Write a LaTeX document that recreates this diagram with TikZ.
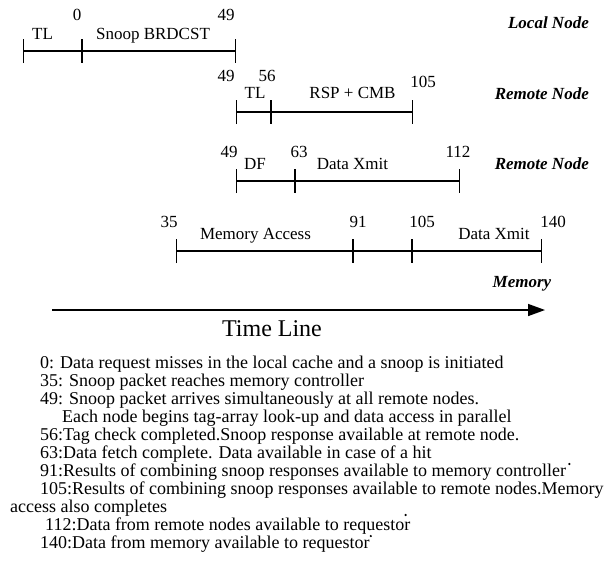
\documentclass[tikz,border=0pt]{standalone}
\usepackage{fontspec}
\setmainfont{Liberation Serif}
\usetikzlibrary{arrows.meta, positioning}
\tikzstyle{seglabel} = [font=\fontsize{17}{20}\selectfont, anchor=base, inner sep=0pt]
\tikzstyle{ticknum} = [font=\fontsize{17}{20}\selectfont, anchor=base, inner sep=0pt]
\tikzstyle{rowname} = [font=\fontsize{17}{20}\selectfont\bfseries\itshape, anchor=base east, inner sep=0pt]
\tikzstyle{note} = [font=\fontsize{18}{20}\selectfont, anchor=base west, inner sep=0pt, text height=12.5pt, text depth=4pt]
\tikzstyle{seg} = [line width=1.3pt, {Bar[width=24pt]}-{Bar[width=24pt]}]
\tikzstyle{timearrw} = [line width=1.5pt, -{Triangle[length=17pt, width=12pt]}]
\tikzstyle{straydot} = [fill=black]
\begin{document}
\begin{tikzpicture}[x=1pt, y=-1pt]
    \useasboundingbox (0,0) rectangle (615,582);

    % Local node
    \coordinate (lA) at (23,51);
    \coordinate (lB) at (82,51);
    \coordinate (lC) at (236,51);
    \draw [seg] (lA) -- (lB);
    \draw [seg] (lB) -- (lC);
    \node (tlloc) [seglabel] at (42.5,39) {TL};
    \node (snoop) [seglabel] at (153,39) {Snoop BRDCST};
    \node (nzero) [ticknum] at (77,20) {0};
    \node (nlocend) [ticknum] at (226,20) {49};
    \node (local) [rowname] at (589,28) {Local Node};

    % Remote node: tag look-up
    \coordinate (rA) at (236,112);
    \coordinate (rB) at (271,112);
    \coordinate (rC) at (413,112);
    \draw [seg] (rA) -- (rB);
    \draw [seg] (rB) -- (rC);
    \node (tlrem) [seglabel] at (255,98) {TL};
    \node (rspcmb) [seglabel] at (352.5,98) {RSP + CMB};
    \node (nremA) [ticknum] at (226,81) {49};
    \node (ntag) [ticknum] at (267,81) {56};
    \node (nrsp) [ticknum] at (423,87) {105};
    \node (remoteA) [rowname] at (589,99) {Remote Node};

    % Remote node: data fetch
    \coordinate (dA) at (236,181);
    \coordinate (dB) at (295,181);
    \coordinate (dC) at (460,181);
    \draw [seg] (dA) -- (dB);
    \draw [seg] (dB) -- (dC);
    \node (df) [seglabel] at (255,169) {DF};
    \node (xmitrem) [seglabel] at (352.5,169) {Data Xmit};
    \node (nremB) [ticknum] at (229,157) {49};
    \node (nfetch) [ticknum] at (299,157) {63};
    \node (nremxmit) [ticknum] at (458,157) {112};
    \node (remoteB) [rowname] at (589,169) {Remote Node};

    % Memory
    \coordinate (mA) at (176,251);
    \coordinate (mB) at (353,251);
    \coordinate (mC) at (412,251);
    \coordinate (mD) at (542,251);
    \draw [seg] (mA) -- (mB);
    \draw [seg] (mB) -- (mC);
    \draw [seg] (mC) -- (mD);
    \node (memacc) [seglabel] at (255.5,239) {Memory Access};
    \node (xmitmem) [seglabel] at (494,239) {Data Xmit};
    \node (nmem) [ticknum] at (169,227) {35};
    \node (ncomb) [ticknum] at (358,227) {91};
    \node (ncombrem) [ticknum] at (422,227) {105};
    \node (nmemxmit) [ticknum] at (553,227) {140};
    \node (memory) [rowname, anchor=base] at (522,287) {Memory};

    % Time line
    \coordinate (tA) at (52,310);
    \coordinate (tB) at (545,310);
    \draw [timearrw] (tA) -- (tB);
    \node (timeline) [anchor=base, inner sep=0pt, font=\fontsize{24}{28}\selectfont] at (272,336) {Time Line};

    % Event list
    \node (e0) [note] at (40,368) {0: Data request misses in the local cache and a snoop is initiated};
    \node (e35) [note, below=18pt of e0.base west, anchor=base west] {35: Snoop packet reaches memory controller};
    \node (e49) [note, below=18pt of e35.base west, anchor=base west] {49: Snoop packet arrives simultaneously at all remote nodes.};
    \node (e49b) [note, below=18pt of e49.base west, anchor=base west, xshift=22pt] {Each node begins tag-array look-up and data access in parallel};
    \node (e56) [note, below=18pt of e49b.base west, anchor=base west, xshift=-22pt] {56:Tag check completed.Snoop response available at remote node.};
    \node (e63) [note, below=18pt of e56.base west, anchor=base west] {63:Data fetch complete. Data available in case of a hit};
    \node (e91) [note, below=18pt of e63.base west, anchor=base west] {91:Results of combining snoop responses available to memory controller};
    \node (e105) [note, below=18pt of e91.base west, anchor=base west] {105:Results of combining snoop responses available to remote nodes.Memory};
    \node (e105b) [note, below=18pt of e105.base west, anchor=base west, xshift=-30pt] {access also completes};
    \node (e112) [note, below=18pt of e105b.base west, anchor=base west, xshift=35pt] {112:Data from remote nodes available to requestor};
    \node (e140) [note, below=18pt of e112.base west, anchor=base west, xshift=-5pt] {140:Data from memory available to requestor};
    % stray dots
    \fill [straydot] ([shift={(3,-12)}]e91.base east) circle (1.2);
    \fill [straydot] ([shift={(-5,-15)}]e112.base east) circle (1.2);
    \fill [straydot] ([shift={(1,-12)}]e140.base east) circle (1.2);
\end{tikzpicture}
\end{document}
